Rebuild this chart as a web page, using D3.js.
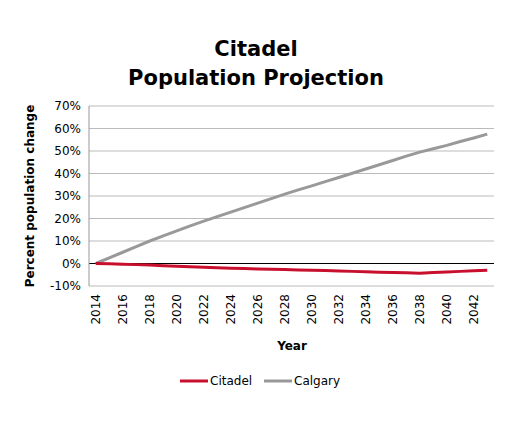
<!DOCTYPE html><html><head><script src="https://cdn.jsdelivr.net/npm/d3@7"></script>
<style>body{margin:0;background:#fff}text{font-family:"DejaVu Sans",sans-serif}</style></head><body>
<script>
const years=d3.range(2014,2044);
const citadel=[0,-0.15,-0.3,-0.5,-0.7,-0.95,-1.2,-1.45,-1.7,-1.9,-2.1,-2.25,-2.4,-2.55,-2.7,-2.85,-3.0,-3.15,-3.3,-3.5,-3.7,-3.85,-4.0,-4.15,-4.3,-4.05,-3.8,-3.5,-3.2,-3.0];
const calgary=[0,2.5,5,7.5,10,12.3,14.5,16.7,18.8,20.8,22.8,24.8,26.8,28.8,30.8,32.7,34.5,36.4,38.2,40.1,42,43.9,45.8,47.7,49.5,51,52.5,54.2,55.8,57.5];
const yTicks=[-10,0,10,20,30,40,50,60,70];
const W=509,H=425,L=89,R=494,T=106,B=286;
const svg=d3.select("body").append("svg").attr("width",W).attr("height",H);
const x=d3.scaleBand().domain(years).range([L,R]);
const y=d3.scaleLinear().domain([-10,70]).range([B,T]);
svg.selectAll(".g").data(yTicks).join("line").attr("x1",L).attr("x2",R).attr("y1",d=>y(d)).attr("y2",d=>y(d)).attr("stroke",d=>d===0?"#000":"#bbb").attr("stroke-width",1);
svg.append("line").attr("x1",L).attr("x2",L).attr("y1",T).attr("y2",B).attr("stroke","#999");
svg.selectAll(".yl").data(yTicks).join("text").attr("x",L-8).attr("y",d=>y(d)+4).attr("text-anchor","end").attr("font-size",12).text(d=>d+"%");
svg.selectAll(".xl").data(years.filter(d=>d%2===0)).join("text").attr("transform",d=>`translate(${x(d)+x.bandwidth()/2+4},${B+8}) rotate(-90)`).attr("text-anchor","end").attr("font-size",12).text(d=>d);
const line=d3.line().x((d,i)=>x(years[i])+x.bandwidth()/2).y(d=>y(d));
svg.append("path").datum(calgary).attr("d",line).attr("fill","none").attr("stroke","#999").attr("stroke-width",3);
svg.append("path").datum(citadel).attr("d",line).attr("fill","none").attr("stroke","#c8102e").attr("stroke-width",3);
svg.append("text").attr("x",256).attr("y",56).attr("text-anchor","middle").attr("font-size",21).attr("font-weight","bold").text("Citadel");
svg.append("text").attr("x",256).attr("y",85).attr("text-anchor","middle").attr("font-size",21).attr("font-weight","bold").text("Population Projection");
svg.append("text").attr("x",292).attr("y",350).attr("text-anchor","middle").attr("font-size",12).attr("font-weight","bold").text("Year");
svg.append("text").attr("transform","translate(34,196) rotate(-90)").attr("text-anchor","middle").attr("font-size",12).attr("font-weight","bold").text("Percent population change");
const lg=[["Citadel","#c8102e",180],["Calgary","#999",264]];
lg.forEach(([n,c,lx])=>{svg.append("line").attr("x1",lx).attr("x2",lx+28).attr("y1",381).attr("y2",381).attr("stroke",c).attr("stroke-width",3);
svg.append("text").attr("x",lx+30).attr("y",385).attr("font-size",12).text(n);});
</script></body></html>
